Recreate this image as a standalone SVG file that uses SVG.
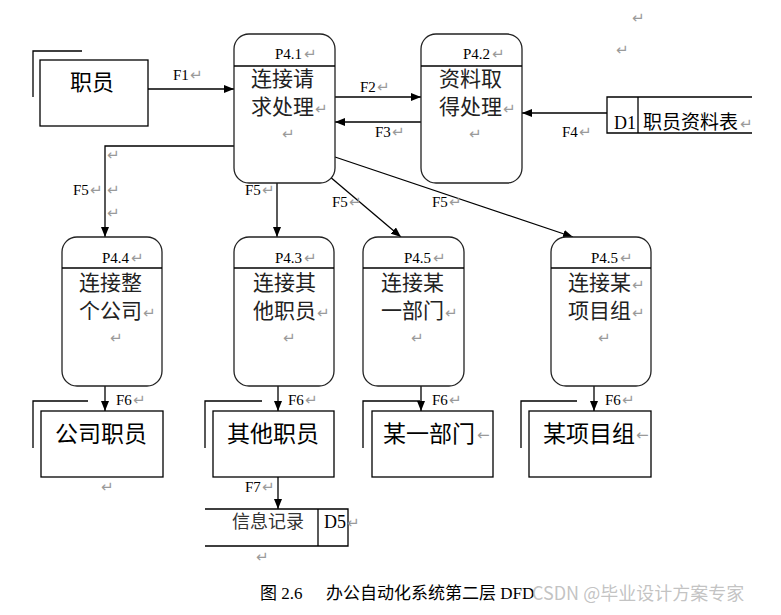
<svg xmlns="http://www.w3.org/2000/svg" width="781" height="615" viewBox="0 0 781 615">
<defs>
<marker id="ah" viewBox="0 0 10 8" refX="10" refY="4" markerWidth="10" markerHeight="8" markerUnits="userSpaceOnUse" orient="auto">
<path d="M0,0 L10,4 L0,8 Z" fill="#000"/>
</marker>
<style>
.proc{fill:#fff;stroke:#222;stroke-width:1.3}
.ln{stroke:#000;stroke-width:1.3;fill:none}
.ent{fill:#fff;stroke:#000;stroke-width:1.3}
.t{font-family:"Liberation Serif","Noto Sans CJK SC",serif;fill:#000}
.pid{font-size:15px}
.pn{font-size:21px;fill:#222}
.big{font-size:22px}
.fl{font-size:15px}
.pm{font-family:"DejaVu Sans",sans-serif;font-size:15px;fill:#9a9a9a}
</style>
</defs>
<rect width="781" height="615" fill="#fff"/>

<g id="connectors">
<line class="ln" x1="148" y1="89" x2="234" y2="89" marker-end="url(#ah)"/>
<line class="ln" x1="335" y1="97" x2="421" y2="97" marker-end="url(#ah)"/>
<line class="ln" x1="421" y1="122" x2="335" y2="122" marker-end="url(#ah)"/>
<line class="ln" x1="607" y1="113" x2="522" y2="113" marker-end="url(#ah)"/>
<polyline class="ln" points="234,146 105,146 105,237" marker-end="url(#ah)"/>
<line class="ln" x1="277" y1="183" x2="277" y2="237" marker-end="url(#ah)"/>
<line class="ln" x1="329" y1="176" x2="401" y2="237" marker-end="url(#ah)"/>
<line class="ln" x1="335" y1="157" x2="573" y2="237" marker-end="url(#ah)"/>
<line class="ln" x1="105" y1="386" x2="105" y2="411" marker-end="url(#ah)"/>
<line class="ln" x1="278" y1="386" x2="278" y2="411" marker-end="url(#ah)"/>
<line class="ln" x1="421" y1="386" x2="421" y2="411" marker-end="url(#ah)"/>
<line class="ln" x1="594" y1="386" x2="594" y2="411" marker-end="url(#ah)"/>
<line class="ln" x1="278" y1="477" x2="278" y2="509" marker-end="url(#ah)"/>
<text class="t fl" x="173" y="80">F1</text><text class="pm" x="190" y="80">↵</text>
<text class="t fl" x="360" y="92">F2</text><text class="pm" x="377" y="92">↵</text>
<text class="t fl" x="375" y="137">F3</text><text class="pm" x="392" y="137">↵</text>
<text class="t fl" x="562" y="137">F4</text><text class="pm" x="579" y="137">↵</text>
<text class="t fl" x="73" y="195">F5</text><text class="pm" x="90" y="195">↵</text>
<text class="pm" x="107" y="160">↵</text><text class="pm" x="107" y="195">↵</text><text class="pm" x="107" y="218">↵</text>
<text class="t fl" x="245" y="195">F5</text><text class="pm" x="262" y="195">↵</text>
<text class="t fl" x="332" y="207">F5</text><text class="pm" x="349" y="207">↵</text>
<text class="t fl" x="432" y="207">F5</text><text class="pm" x="449" y="207">↵</text>
<text class="t fl" x="116" y="405">F6</text><text class="pm" x="133" y="405">↵</text>
<text class="t fl" x="288" y="405">F6</text><text class="pm" x="305" y="405">↵</text>
<text class="t fl" x="432" y="405">F6</text><text class="pm" x="449" y="405">↵</text>
<text class="t fl" x="605" y="405">F6</text><text class="pm" x="622" y="405">↵</text>
<text class="t fl" x="245" y="492">F7</text><text class="pm" x="262" y="492">↵</text>
</g>

<g id="E-zhiyuan">
<polyline class="ln" points="33,97 33,51 82,51"/>
<rect class="ent" x="40" y="60" width="108" height="66"/>
<text class="t big" x="70" y="90">职员</text>
</g>

<g id="P4.1">
<rect class="proc" x="234" y="34" width="101" height="149" rx="15"/>
<line class="ln" x1="234" y1="66" x2="335" y2="66"/>
<text class="t pid" x="275" y="59">P4.1</text><text class="pm" x="304" y="59">↵</text>
<text class="t pn" x="251" y="86">连接请</text>
<text class="t pn" x="251" y="114">求处理</text><text class="pm" x="315" y="114">↵</text>
<text class="pm" x="282" y="139">↵</text>
</g>

<g id="P4.2">
<rect class="proc" x="421" y="34" width="101" height="149" rx="15"/>
<line class="ln" x1="421" y1="66" x2="522" y2="66"/>
<text class="t pid" x="463" y="59">P4.2</text><text class="pm" x="492" y="59">↵</text>
<text class="t pn" x="439" y="86">资料取</text>
<text class="t pn" x="439" y="114">得处理</text><text class="pm" x="503" y="114">↵</text>
<text class="pm" x="469" y="139">↵</text>
</g>

<g id="D1">
<polyline class="ln" points="752,97 607,97 607,133 752,133"/>
<line class="ln" x1="638" y1="97" x2="638" y2="133"/>
<text class="t" style="font-size:18px" x="614" y="129">D1</text>
<text class="t" style="font-size:19px" x="643" y="129">职员资料表</text><text class="pm" x="740" y="129">↵</text>
</g>

<g id="P4.4">
<rect class="proc" x="62" y="237" width="100" height="149" rx="15"/>
<line class="ln" x1="62" y1="268" x2="162" y2="268"/>
<text class="t pid" x="102" y="263">P4.4</text><text class="pm" x="131" y="263">↵</text>
<text class="t pn" x="79" y="290">连接整</text>
<text class="t pn" x="79" y="318">个公司</text><text class="pm" x="143" y="318">↵</text>
<text class="pm" x="110" y="343">↵</text>
</g>

<g id="P4.3">
<rect class="proc" x="234" y="237" width="100" height="149" rx="15"/>
<line class="ln" x1="234" y1="268" x2="334" y2="268"/>
<text class="t pid" x="275" y="263">P4.3</text><text class="pm" x="304" y="263">↵</text>
<text class="t pn" x="253" y="290">连接其</text>
<text class="t pn" x="253" y="318">他职员</text><text class="pm" x="317" y="318">↵</text>
<text class="pm" x="283" y="343">↵</text>
</g>

<g id="P4.5a">
<rect class="proc" x="363" y="237" width="101" height="149" rx="15"/>
<line class="ln" x1="363" y1="268" x2="464" y2="268"/>
<text class="t pid" x="404" y="263">P4.5</text><text class="pm" x="433" y="263">↵</text>
<text class="t pn" x="381" y="290">连接某</text>
<text class="t pn" x="381" y="318">一部门</text><text class="pm" x="445" y="318">↵</text>
<text class="pm" x="411" y="343">↵</text>
</g>

<g id="P4.5b">
<rect class="proc" x="551" y="237" width="100" height="149" rx="15"/>
<line class="ln" x1="551" y1="268" x2="651" y2="268"/>
<text class="t pid" x="591" y="263">P4.5</text><text class="pm" x="620" y="263">↵</text>
<text class="t pn" x="568" y="290">连接某</text><text class="pm" x="632" y="290">↵</text>
<text class="t pn" x="568" y="318">项目组</text><text class="pm" x="632" y="318">↵</text>
<text class="pm" x="598" y="343">↵</text>
</g>

<g id="E-gongsi">
<polyline class="ln" points="33,448 33,401 88,401"/>
<rect class="ent" x="41" y="411" width="122" height="66"/>
<text class="t" style="font-size:23px" x="55" y="442">公司职员</text>
<text class="pm" x="101" y="492">↵</text>
</g>

<g id="E-qita">
<polyline class="ln" points="205,448 205,401 262,401"/>
<rect class="ent" x="213" y="411" width="121" height="66"/>
<text class="t" style="font-size:23px" x="227" y="442">其他职员</text>
</g>

<g id="E-bumen">
<polyline class="ln" points="363,448 363,401 420,401"/>
<rect class="ent" x="372" y="411" width="121" height="66"/>
<text class="t" style="font-size:23px" x="383" y="442">某一部门</text><text class="pm" x="477" y="440">←</text>
</g>

<g id="E-xiangmu">
<polyline class="ln" points="521,448 521,401 577,401"/>
<rect class="ent" x="529" y="411" width="122" height="66"/>
<text class="t" style="font-size:23px" x="543" y="442">某项目组</text><text class="pm" x="636" y="440">←</text>
</g>

<g id="D5">
<polyline class="ln" points="205,509 348,509 348,546 205,546"/>
<line class="ln" x1="318" y1="509" x2="318" y2="546"/>
<text class="t" style="font-size:18px;fill:#333" x="232" y="528">信息记录</text>
<text class="t" style="font-size:18px" x="324" y="528">D5</text><text class="pm" x="347" y="528">↵</text>
<text class="pm" x="256" y="562">↵</text>
</g>

<g id="misc">
<text class="pm" x="632" y="23">↵</text>
<text class="pm" x="616" y="55">↵</text>
<text class="t" style="font-size:17px" x="260" y="599">图 2.6</text>
<text class="t" style="font-size:17px" x="326" y="599">办公自动化系统第二层 DFD</text>
<text style="font-family:'Noto Sans CJK SC',sans-serif;font-size:18px;fill:#b8b8b8;fill-opacity:0.85" x="532" y="600">CSDN @毕业设计方案专家</text>
</g>
</svg>
